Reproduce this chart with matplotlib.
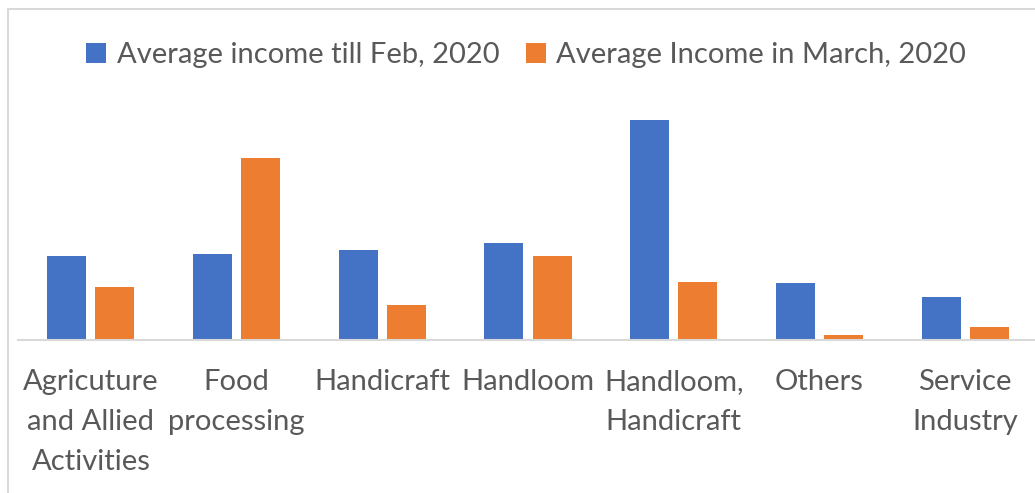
import matplotlib.pyplot as plt
import matplotlib.patches as mpatches
import numpy as np

plt.rcParams['font.family'] = ['Lato', 'DejaVu Sans']

categories = ['Agricuture\nand Allied\nActivities', 'Food\nprocessing', 'Handicraft',
              'Handloom', 'Handloom,\nHandicraft', 'Others', 'Service\nIndustry']
income_feb = [84, 86, 90, 97, 220, 57, 43]
income_march = [53, 182, 35, 84, 58, 5, 13]

BLUE = '#4472c4'
ORANGE = '#ed7d31'
TEXT = '#595959'
GRID = '#d9d9d9'

W, H = 1035, 493
fig = plt.figure(figsize=(W / 100, H / 100), dpi=100)

# chart-area border (top and left edges visible)
fig.patches.append(mpatches.Rectangle((8 / W, -0.1), 1.2, 1 - 9 / H + 0.1,
                                      transform=fig.transFigure, fill=False,
                                      edgecolor=GRID, linewidth=1.5))

left, right = 18, 1038
top, base = 100, 340
ax = fig.add_axes([left / W, 1 - base / H, (right - left) / W, (base - top) / H])

x = np.arange(len(categories))
w = 0.268
off = 0.165
ax.bar(x - off, income_feb, w, color=BLUE, label='Average income till Feb, 2020')
ax.bar(x + off, income_march, w, color=ORANGE, label='Average Income in March, 2020')

ax.set_xlim(-0.5, len(categories) - 0.5)
ax.set_ylim(0, base - top)
ax.set_yticks([])
ax.set_xticks(x)
ax.set_xticklabels(categories, fontsize=21, color=TEXT, linespacing=1.66)
ax.tick_params(axis='x', length=0, pad=21)
for s in ['top', 'left', 'right']:
    ax.spines[s].set_visible(False)
ax.spines['bottom'].set_color(GRID)
ax.spines['bottom'].set_linewidth(1.5)
ax.patch.set_alpha(0)

fig.legend(loc='center', bbox_to_anchor=(526 / W, 1 - 55 / H), ncol=2, frameon=False,
           fontsize=21, labelcolor=TEXT, handlelength=0.7, handleheight=0.7,
           handletextpad=0.35, columnspacing=0.9)

fig.savefig('out.png', dpi=100)
